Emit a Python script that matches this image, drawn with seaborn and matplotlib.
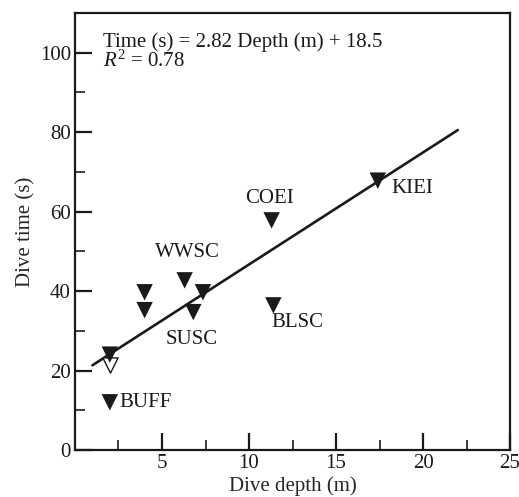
import numpy as np
import pandas as pd
import matplotlib
matplotlib.use("Agg")
import matplotlib.pyplot as plt
import seaborn as sns

# Species mean dive depth and dive time
species = ["BUFF", "", "", "", "WWSC", "", "SUSC", "COEI", "BLSC", "KIEI"]
depth_m = [2.0, 2.0, 4.0, 4.0, 6.3, 7.35, 6.8, 11.3, 11.4, 17.4]
time_s = [12.0, 24.0, 39.7, 35.2, 42.7, 39.7, 34.7, 57.8, 36.4, 67.8]

# Open (outlined) point
open_depth = [2.0]
open_time = [21.5]

# Regression: Time (s) = 2.82 Depth (m) + 18.5
slope = 2.82
intercept = 18.5
r2 = 0.78
fit_range = [1.0, 22.0]

x_ticks = [5, 10, 15, 20, 25]
y_ticks = [0, 20, 40, 60, 80, 100]

sns.set_style("ticks")
plt.rcParams["font.family"] = ["Liberation Serif", "DejaVu Serif"]
plt.rcParams["mathtext.fontset"] = "custom"
plt.rcParams["mathtext.it"] = "Liberation Serif:italic"
plt.rcParams["mathtext.rm"] = "Liberation Serif"

ink = "#1a1a1a"
fs = 15

fig = plt.figure(figsize=(5.19, 4.97), dpi=100)
ax = fig.add_axes([0.1445, 0.0946, 0.8382, 0.8792])

pts = pd.DataFrame({"depth": depth_m, "time": time_s, "species": species})
line = pd.DataFrame({"depth": fit_range,
                     "time": [slope * d + intercept for d in fit_range]})
opn = pd.DataFrame({"depth": open_depth, "time": open_time})

sns.lineplot(data=line, x="depth", y="time", ax=ax, color=ink,
             linewidth=1.9, zorder=2)
sns.scatterplot(data=opn, x="depth", y="time", ax=ax, marker="v", s=120,
                facecolor="white", edgecolor=ink, linewidth=1.0, zorder=3)
sns.scatterplot(data=pts, x="depth", y="time", ax=ax, marker="v", s=140,
                color=ink, edgecolor="none", zorder=4)

# Species labels: offset from the point, alignment
label_pos = {
    "BUFF": (0.55, 0.0, "left", "center"),
    "WWSC": (0.15, 6.9, "center", "center"),
    "SUSC": (-0.1, -6.8, "center", "center"),
    "COEI": (-0.15, 5.6, "center", "center"),
    "BLSC": (1.4, -4.3, "center", "center"),
    "KIEI": (0.8, -1.9, "left", "center"),
}
for sp, d, t in zip(species, depth_m, time_s):
    if sp in label_pos:
        dx, dy, ha, va = label_pos[sp]
        ax.text(d + dx, t + dy, sp, ha=ha, va=va, fontsize=fs, color=ink)

ax.text(0.064, 0.922, "Time (s) = 2.82 Depth (m) + 18.5", transform=ax.transAxes,
        fontsize=fs, ha="left", va="baseline", color=ink)
ax.text(0.064, 0.876, f"$R^2$ = {r2:.2f}", transform=ax.transAxes,
        fontsize=fs, ha="left", va="baseline", color=ink)

ax.set_xlim(0, 25)
ax.set_ylim(0, 110)
ax.set_xticks(x_ticks)
ax.set_yticks(y_ticks)
ax.set_xticks([2.5, 7.5, 12.5, 17.5, 22.5], minor=True)
ax.set_yticks([10, 30, 50, 70, 90], minor=True)
ax.tick_params(which="major", direction="in", length=12, width=1.6,
               labelsize=fs, colors=ink, pad=3)
ax.tick_params(which="minor", direction="in", length=7, width=1.2,
               colors=ink)
for sp in ax.spines.values():
    sp.set_visible(True)
    sp.set_linewidth(1.6)
    sp.set_color(ink)

ax.set_xlabel("Dive depth (m)", fontsize=fs, labelpad=2)
ax.set_ylabel("Dive time (s)", fontsize=fs, labelpad=3)

fig.savefig("out.png", dpi=100)
